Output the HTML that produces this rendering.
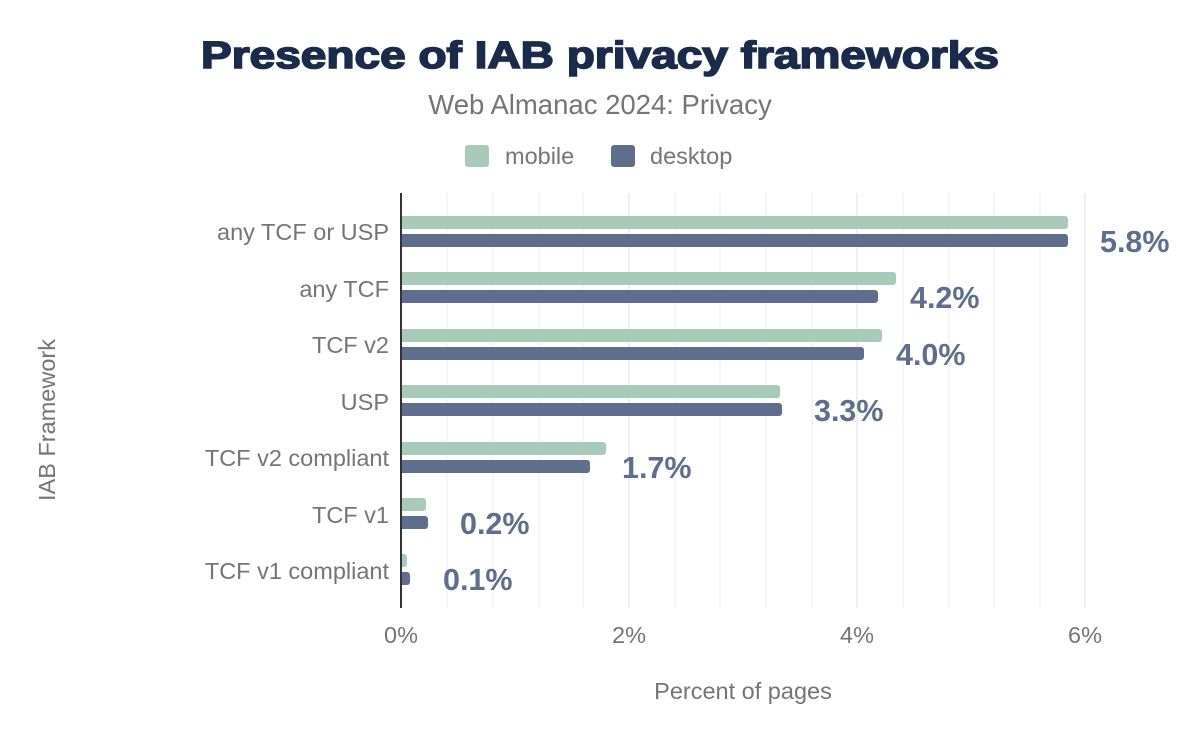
<!DOCTYPE html>
<html><head><meta charset="utf-8"><style>
body{margin:0;background:#fff;}
svg{display:block;font-family:"Liberation Sans",sans-serif;}
</style></head><body>
<svg width="1200" height="742" viewBox="0 0 1200 742">
<text x="600" y="68" text-anchor="middle" font-size="38" font-weight="900" fill="#1a2b4b" stroke="#1a2b4b" stroke-width="1.6" textLength="798" lengthAdjust="spacingAndGlyphs">Presence of IAB privacy frameworks</text>
<text x="600" y="114" text-anchor="middle" font-size="27.5" fill="#757575">Web Almanac 2024: Privacy</text>
<rect x="465" y="145" width="24" height="22" rx="3" fill="#a8cbb9"/>
<text x="505" y="164" font-size="23.5" fill="#757575">mobile</text>
<rect x="611" y="145" width="24" height="22" rx="3" fill="#5f6e8d"/>
<text x="650" y="164" font-size="23.5" fill="#757575">desktop</text>
<g stroke="#f3f3f3" stroke-width="1.5">
<line x1="447" y1="193" x2="447" y2="608"/><line x1="493" y1="193" x2="493" y2="608"/><line x1="539" y1="193" x2="539" y2="608"/><line x1="583" y1="193" x2="583" y2="608"/><line x1="629" y1="193" x2="629" y2="608" stroke="#ececec"/><line x1="675" y1="193" x2="675" y2="608"/><line x1="720" y1="193" x2="720" y2="608"/><line x1="766" y1="193" x2="766" y2="608"/><line x1="812" y1="193" x2="812" y2="608"/><line x1="857" y1="193" x2="857" y2="608" stroke="#ececec"/><line x1="903" y1="193" x2="903" y2="608"/><line x1="949" y1="193" x2="949" y2="608"/><line x1="994" y1="193" x2="994" y2="608"/><line x1="1040" y1="193" x2="1040" y2="608"/><line x1="1085" y1="193" x2="1085" y2="608" stroke="#ececec"/>
</g>
<g font-size="23.5" fill="#757575" text-anchor="end">
<text x="389" y="240">any TCF or USP</text>
<text x="389" y="297">any TCF</text>
<text x="389" y="353">TCF v2</text>
<text x="389" y="410">USP</text>
<text x="389" y="466">TCF v2 compliant</text>
<text x="389" y="523">TCF v1</text>
<text x="389" y="579">TCF v1 compliant</text>
</g>
<g fill="#a8cbb9">
<rect x="398" y="216" width="670" height="13" rx="3"/>
<rect x="398" y="272" width="498" height="13" rx="3"/>
<rect x="398" y="329" width="484" height="13" rx="3"/>
<rect x="398" y="385" width="382" height="13" rx="3"/>
<rect x="398" y="442" width="208" height="13" rx="3"/>
<rect x="398" y="498" width="28" height="13" rx="3"/>
<rect x="398" y="554" width="9" height="13" rx="3"/>
</g>
<g fill="#5f6e8d">
<rect x="398" y="234" width="670" height="13" rx="3"/>
<rect x="398" y="290" width="480" height="13" rx="3"/>
<rect x="398" y="347" width="466" height="13" rx="3"/>
<rect x="398" y="403" width="384" height="13" rx="3"/>
<rect x="398" y="460" width="192" height="13" rx="3"/>
<rect x="398" y="516" width="30" height="13" rx="3"/>
<rect x="398" y="572" width="12" height="13" rx="3"/>
</g>
<rect x="396" y="193" width="5" height="415" fill="#fff"/>
<line x1="401" y1="193" x2="401" y2="608" stroke="#333" stroke-width="2"/>
<g font-size="30.5" font-weight="bold" fill="#5f6e8d">
<text x="1100" y="252">5.8%</text>
<text x="910" y="308">4.2%</text>
<text x="896" y="365">4.0%</text>
<text x="814" y="421">3.3%</text>
<text x="622" y="478">1.7%</text>
<text x="460" y="534">0.2%</text>
<text x="443" y="590">0.1%</text>
</g>
<g font-size="23.5" fill="#757575" text-anchor="middle">
<text x="401" y="643">0%</text><text x="629" y="643">2%</text><text x="857" y="643">4%</text><text x="1085" y="643">6%</text>
<text x="743" y="699">Percent of pages</text>
<text transform="translate(55,420) rotate(-90)">IAB Framework</text>
</g>
</svg>
</body></html>
